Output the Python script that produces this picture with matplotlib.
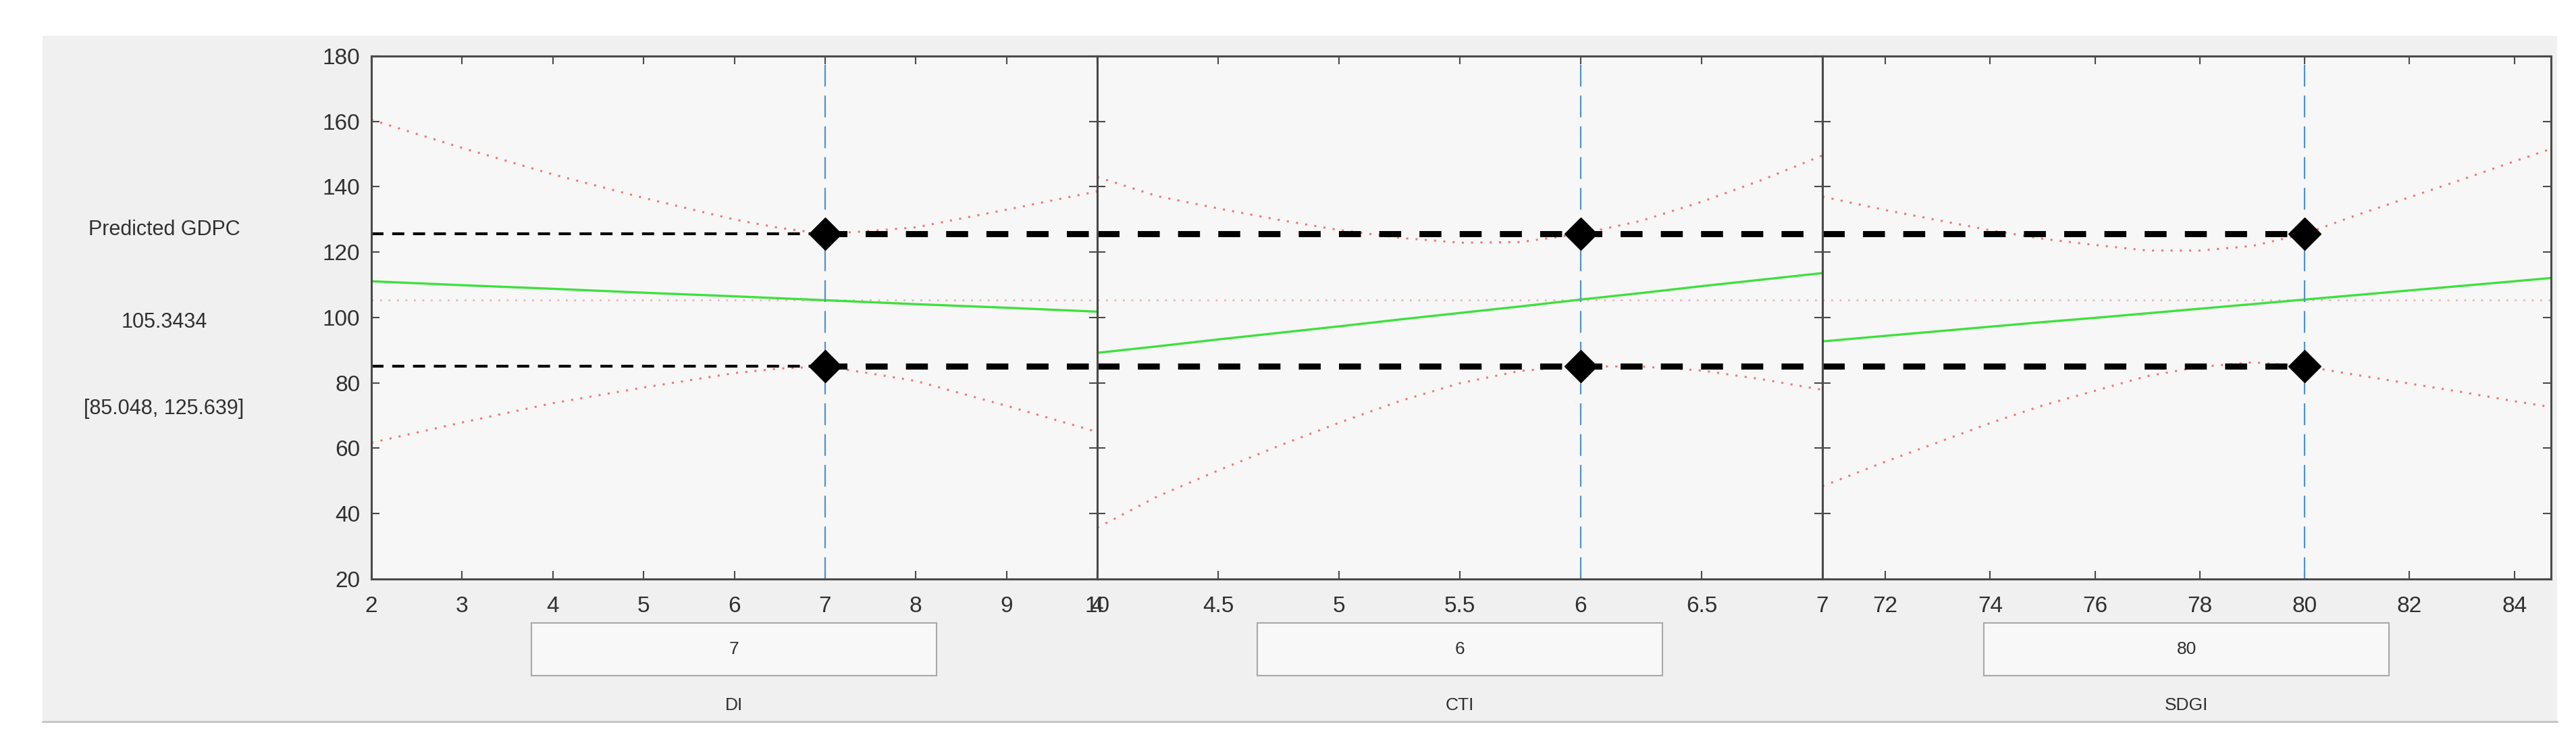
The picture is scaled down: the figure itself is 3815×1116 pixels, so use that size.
import matplotlib
matplotlib.use("Agg")
import matplotlib.pyplot as plt
from matplotlib.patches import Rectangle
from matplotlib.lines import Line2D

plt.rcParams['font.family'] = ['Liberation Sans', 'DejaVu Sans']

W, H = 3816, 1116

# predicted response at the current point
response_name = "Predicted GDPC"
pred_value = 105.3434
ci_low = 85.048
ci_high = 125.639

factor_names = ["DI", "CTI", "SDGI"]
factor_current = [7, 6, 80]
factor_limits = [(2, 10), (4, 7), (70.8, 84.7)]
factor_ticks = [[2, 3, 4, 5, 6, 7, 8, 9, 10],
                [4, 4.5, 5, 5.5, 6, 6.5, 7],
                [72, 74, 76, 78, 80, 82, 84]]
factor_ticklabels = [["2", "3", "4", "5", "6", "7", "8", "9", "10"],
                     ["4", "4.5", "5", "5.5", "6", "6.5", "7"],
                     ["72", "74", "76", "78", "80", "82", "84"]]

# DI slice
di_x = [2, 3, 4, 5, 6, 6.5, 7, 7.5, 8, 9, 10]
di_pred = [111.1, 109.9, 108.8, 107.6, 106.5, 105.9, 105.3, 104.7, 104.1, 103.0, 101.8]
di_upper = [160.5, 151.9, 143.8, 136.6, 130.0, 127.4, 125.6, 126.5, 127.6, 133.0, 138.6]
di_lower = [61.7, 67.9, 73.8, 78.6, 83.0, 84.4, 85.0, 82.9, 80.6, 73.0, 65.0]

# CTI slice
cti_x = [4, 4.25, 4.5, 4.75, 5, 5.25, 5.5, 5.75, 6, 6.25, 6.5, 6.75, 7]
cti_pred = [89.2, 91.2, 93.3, 95.3, 97.3, 99.4, 101.4, 103.4, 105.5, 107.5, 109.6, 111.6, 113.6]
cti_upper = [143.0, 137.1, 133.4, 129.9, 126.8, 124.4, 122.9, 123.1, 125.6, 129.6, 135.4, 142.1, 149.6]
cti_lower = [35.7, 45.3, 53.2, 60.7, 67.8, 74.4, 79.9, 83.7, 85.1, 85.0, 83.8, 81.1, 77.9]

# SDGI slice
sdgi_x = [70.8, 72, 73, 74, 75, 76, 77, 78, 79, 80, 81, 82, 83, 84, 84.7]
sdgi_pred = [92.7, 94.4, 95.8, 97.2, 98.6, 99.9, 101.3, 102.7, 104.1, 105.5, 106.9, 108.3, 109.7, 111.1, 112.1]
sdgi_upper = [137.0, 132.9, 129.8, 126.7, 124.1, 122.2, 120.5, 120.5, 121.9, 125.6, 131.4, 136.8, 142.2, 147.8, 151.6]
sdgi_lower = [48.4, 55.9, 61.8, 67.7, 73.1, 77.6, 82.1, 84.9, 86.3, 85.1, 82.4, 79.8, 77.2, 74.4, 72.6]

slices = [(di_x, di_pred, di_upper, di_lower),
          (cti_x, cti_pred, cti_upper, cti_lower),
          (sdgi_x, sdgi_pred, sdgi_upper, sdgi_lower)]

red = "#ee7878"
green = "#3ee03e"
blue = "#4f93cc"
spine_col = "#4a4a4a"
text_col = "#303030"

fig = plt.figure(figsize=(W / 100, H / 100), dpi=100)
fig.patch.set_facecolor("white")

# grey panel of the gui window
fig.add_artist(Rectangle((63 / W, 1 - 1068 / H), (3787 - 63) / W, (1068 - 53) / H,
                         transform=fig.transFigure, facecolor="#f0f0f0",
                         edgecolor="none", zorder=0))
fig.add_artist(Line2D([63 / W, 3787 / W], [1 - 1068 / H] * 2, color="#c4c4c4", lw=2))

lefts = [550, 1625, 2699]
rights = [1625, 2699, 3778]
top, bottom = 83, 857

for i in range(3):
    x, pred, upper, lower = slices[i]
    ax = fig.add_axes([lefts[i] / W, 1 - bottom / H, (rights[i] - lefts[i]) / W, (bottom - top) / H])
    ax.set_facecolor("#f7f7f7")

    ax.axhline(pred_value, color=red, ls=(0, (1, 3.5)), lw=2.0, alpha=0.55)
    ax.plot(x, upper, color=red, ls=(0, (1, 3.5)), lw=2.2)
    ax.plot(x, lower, color=red, ls=(0, (1, 3.5)), lw=2.2)
    ax.plot(x, pred, color=green, lw=2.4)
    ax.axvline(factor_current[i], color=blue, ls=(0, (14.5, 6)), lw=1.6)

    lo, hi = factor_limits[i]
    cur = factor_current[i]
    # crosshair lines for the interval bounds
    for yv in [ci_low, ci_high]:
        if i == 0:
            ax.plot([lo, cur], [yv, yv], color="black", ls=(0, (4.3, 3.1)), lw=3)
            ax.plot([cur, hi], [yv, yv], color="black", ls=(0, (3.6, 3.0)), lw=6.5)
        elif i == 1:
            ax.plot([lo, hi], [yv, yv], color="black", ls=(0, (3.6, 3.0)), lw=6.5)
        else:
            ax.plot([lo, cur], [yv, yv], color="black", ls=(0, (3.6, 3.0)), lw=6.5)

    ax.plot([cur, cur], [ci_low, ci_high], "D", color="black", ms=24, zorder=5)

    ax.set_xlim(lo, hi)
    ax.set_ylim(20, 180)
    ax.set_xticks(factor_ticks[i])
    ax.set_xticklabels(factor_ticklabels[i])
    ax.set_yticks(range(20, 181, 20))
    ax.tick_params(direction="in", length=8.5, width=1.5, top=True, right=True,
                   labelsize=24, color=spine_col, labelcolor=text_col)
    ax.tick_params(axis="x", pad=18)
    ax.tick_params(axis="y", pad=12)
    if i > 0:
        ax.tick_params(labelleft=False)
    for sp in ax.spines.values():
        sp.set_color(spine_col)
        sp.set_linewidth(2.2)

    # value box and factor name under each slice
    cx = (lefts[i] + rights[i]) / 2
    fig.add_artist(Rectangle(((cx - 300) / W, 1 - 1000 / H), 600 / W, 78 / H,
                             transform=fig.transFigure, facecolor="#f8f8f8",
                             edgecolor="#a8a8a8", lw=1.5, zorder=1))
    fig.text(cx / W, 1 - 961 / H, str(cur), ha="center", va="center", fontsize=19, color=text_col)
    fig.text(cx / W, 1 - 1044 / H, factor_names[i], ha="center", va="center", fontsize=19, color=text_col)

fig.text(243 / W, 1 - 340 / H, response_name, ha="center", va="center", fontsize=22, color=text_col)
fig.text(243 / W, 1 - 477 / H, f"{pred_value:.4f}", ha="center", va="center", fontsize=22, color=text_col)
fig.text(243 / W, 1 - 605 / H, f"[{ci_low:.3f}, {ci_high:.3f}]", ha="center", va="center", fontsize=22, color=text_col)

fig.savefig("out.png", dpi=100, facecolor=fig.get_facecolor())
